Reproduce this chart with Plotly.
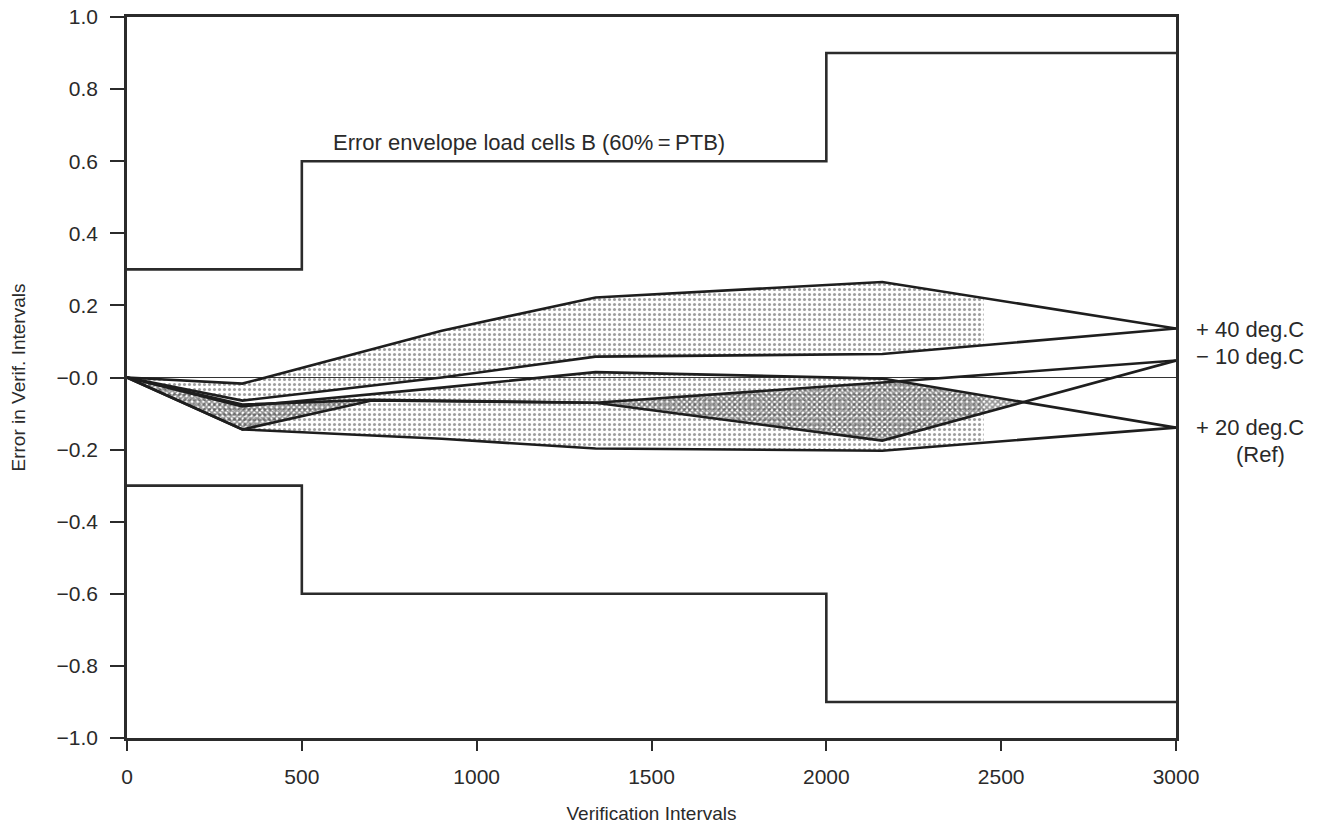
import numpy as np
import plotly.graph_objects as go

# Error envelope (load cells B, 60% = PTB): step limits
env_x = [0, 500, 2000, 3000]
env_hi = [0.3, 0.6, 0.9, 0.9]
env_lo = [-0.3, -0.6, -0.9, -0.9]

# Measured error curves (rising / falling load) per temperature
t_x = [0, 330, 900, 1340, 2160, 3000]
p40_up = [0, -0.017, 0.13, 0.222, 0.265, 0.136]
p40_dn = [0, -0.064, 0.0, 0.058, 0.065, 0.136]
p20_up = [0, -0.08, -0.028, 0.015, -0.003, -0.139]
p20_dn = [0, -0.144, -0.17, -0.197, -0.203, -0.139]
m10_x = [0, 330, 700, 1340, 2160, 3000]
m10_up = [0, -0.075, -0.062, -0.07, -0.014, 0.047]
m10_dn = [0, -0.144, -0.064, -0.07, -0.175, 0.047]

y_ticks = [1.0, 0.8, 0.6, 0.4, 0.2, 0.0, -0.2, -0.4, -0.6, -0.8, -1.0]
y_text = ["1.0", "0.8", "0.6", "0.4", "0.2", "\u22120.0", "\u22120.2",
          "\u22120.4", "\u22120.6", "\u22120.8", "\u22121.0"]
x_ticks = [0, 500, 1000, 1500, 2000, 2500, 3000]

FONT = "Liberation Sans"
INK = "#1e1e1e"
TXT = "#2a2a2a"
shade_end = 2450

grid = np.linspace(0, 3000, 1501)


def band_polygon(top, bot, mask):
    """Closed outline(s) of the region between top and bot where mask holds."""
    px, py = [], []
    idx = np.flatnonzero(mask)
    if idx.size == 0:
        return px, py
    splits = np.split(idx, np.flatnonzero(np.diff(idx) > 1) + 1)
    for seg in splits:
        xs = grid[seg]
        px += list(xs) + list(xs[::-1]) + [None]
        py += list(top[seg]) + list(bot[seg][::-1]) + [None]
    return px, py


a_up = np.interp(grid, t_x, p40_up)
a_dn = np.interp(grid, t_x, p40_dn)
r_up = np.interp(grid, t_x, p20_up)
r_dn = np.interp(grid, t_x, p20_dn)
c_up = np.interp(grid, m10_x, m10_up)
c_dn = np.interp(grid, m10_x, m10_dn)

fig = go.Figure()

light = dict(shape=".", size=5, solidity=0.3, fgcolor="#404040", bgcolor="rgba(0,0,0,0)")
dark = dict(shape="x", size=4, solidity=0.65, fgcolor="#262626", bgcolor="rgba(0,0,0,0)")

# light stipple: +40 and +20 hysteresis bands
for top, bot in ((a_up, a_dn), (r_up, r_dn)):
    hi = np.maximum(top, bot)
    lo = np.minimum(top, bot)
    px, py = band_polygon(hi, lo, (grid <= shade_end) & (hi - lo > 1e-4))
    fig.add_trace(go.Scatter(x=px, y=py, mode="none", fill="toself",
                             fillpattern=light, hoverinfo="skip", showlegend=False))

# dark hatch: where the -10 and +20 bands overlap
ov_top = np.minimum(np.maximum(c_up, c_dn), np.maximum(r_up, r_dn))
ov_bot = np.maximum(np.minimum(c_up, c_dn), np.minimum(r_up, r_dn))
px, py = band_polygon(ov_top, ov_bot, ov_top - ov_bot > 1e-4)
fig.add_trace(go.Scatter(x=px, y=py, mode="none", fill="toself",
                         fillpattern=dark, hoverinfo="skip", showlegend=False))

# curves
for xs, ys in ((t_x, p40_up), (t_x, p40_dn), (t_x, p20_up), (t_x, p20_dn),
               (m10_x, m10_up), (m10_x, m10_dn)):
    fig.add_trace(go.Scatter(x=xs, y=ys, mode="lines",
                             line=dict(color=INK, width=2.6),
                             hoverinfo="skip", showlegend=False))

# envelope steps
for ys in (env_hi, env_lo):
    fig.add_trace(go.Scatter(x=env_x, y=ys, mode="lines", line_shape="hv",
                             line=dict(color="#2b2b2b", width=2.6),
                             hoverinfo="skip", showlegend=False))

fig.add_annotation(x=1150, y=0.6, yanchor="bottom", yshift=4,
                   text="Error envelope load cells B (60%\u2009=\u2009PTB)",
                   showarrow=False, font=dict(family=FONT, size=22, color=TXT))

labels = [("+ 40 deg.C", 0.132), ("\u2212 10 deg.C", 0.058), ("+ 20 deg.C", -0.139)]
for txt, yv in labels:
    fig.add_annotation(x=3000, y=yv, text=txt, showarrow=False, xanchor="left",
                       xshift=18, font=dict(family=FONT, size=22, color=TXT))
fig.add_annotation(x=3000, y=-0.213, text="(Ref)", showarrow=False, xanchor="left",
                   xshift=58, font=dict(family=FONT, size=22, color=TXT))

axis_common = dict(showline=True, linewidth=2.6, linecolor="#2b2b2b", mirror=True,
                   ticks="outside", tickwidth=2, tickcolor="#2b2b2b", automargin=False,
                   showgrid=False, tickfont=dict(family=FONT, size=21, color=TXT))

fig.update_xaxes(range=[0, 3000], tickvals=x_ticks, ticklen=10, ticklabelstandoff=8,
                 title=dict(text="Verification Intervals", standoff=20,
                            font=dict(family=FONT, size=19, color=TXT)),
                 zeroline=False, **axis_common)
fig.update_yaxes(range=[-1, 1], tickvals=y_ticks, ticktext=y_text, ticklen=14,
                 ticklabelstandoff=8,
                 title=dict(text="Error in Verif. Intervals", standoff=26,
                            font=dict(family=FONT, size=19, color=TXT)),
                 zeroline=True, zerolinewidth=1.2, zerolinecolor="#333", **axis_common)

fig.update_layout(width=1338, height=829, plot_bgcolor="white", paper_bgcolor="white",
                  margin=dict(l=127, r=162, t=17, b=91))

fig.write_html("out.html")
